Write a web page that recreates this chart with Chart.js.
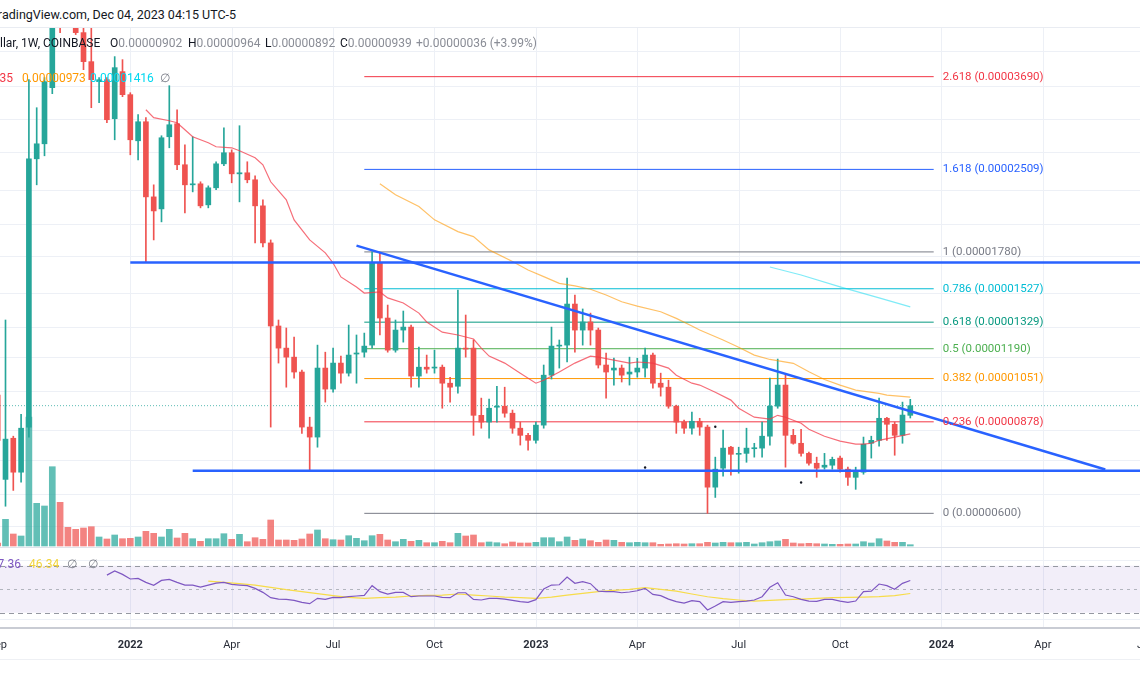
<!DOCTYPE html>
<html>
<head>
<meta charset="utf-8">
<script src="https://cdn.jsdelivr.net/npm/chart.js@4.4.1/dist/chart.umd.min.js"></script>
<style>
  html, body { margin: 0; padding: 0; background: #fff; }
  body { width: 1140px; height: 694px; position: relative; overflow: hidden; font-family: Roboto, "Open Sans", sans-serif; color: #131722; }
  #wrap { position: absolute; left: 0; top: 28px; width: 1140px; height: 637px; }
  .txt { position: absolute; white-space: nowrap; line-height: 16px; font-size: 12px; }
  .cut { position: absolute; right: 100%; top: 0; }
  .ra { transform: translateX(-100%); }
  .rule { position: absolute; left: 0; width: 1140px; }
  .gray { color: #8a8d96; }
</style>
</head>
<body>
<div id="wrap"><canvas id="chart" width="1140" height="637"></canvas></div>
<div class="rule" style="top:27px;height:1px;background:#e9ecf2"></div>
<div class="rule" style="top:547px;height:1px;background:#e0e3eb"></div>
<div class="rule" style="top:627px;height:2px;background:#c9ccd4"></div>
<div class="rule" style="top:659px;height:1px;background:#eef0f4"></div>
<div class="txt" style="left:2px;top:7px;font-size:12.5px"><span class="cut">Tr</span>adingView.com, Dec 04, 2023 04:15 UTC-5</div>
<div id="labels"></div>
<script>
// SHIB/USD weekly, Coinbase. Prices are in units of 0.00000001 USD.
const UNIT = 1e-8;
const firstWeek = -1;   // first bar sits just off the left edge

const openP = [
  981, 691, 820, 712, 859, 2622, 2791, 3525, 5528, 4777,
  4679, 4432, 3928, 3614, 3644, 3098, 3768, 3424, 2826, 3059,
  2238, 2129, 2874, 3034, 2558, 2353, 2363, 2165, 2324, 2568,
  2689, 2463, 2474, 2403, 2156, 1848, 1308, 1193, 1149, 1080,
  859, 824, 1098, 1006, 1121, 1075, 1164, 1173, 1208, 1700,
  1352, 1183, 1286, 1302, 1062, 1102, 1098, 1102, 1031, 1018,
  1193, 1193, 902, 877, 933, 937, 910, 855, 830, 813,
  866, 1066, 1203, 1208, 1433, 1286, 1330, 1286, 1112, 1089,
  1098, 1071, 1080, 1098, 1159, 1031, 1014, 937, 877, 855,
  880, 859, 669, 724, 790, 767, 770, 785, 787, 827,
  937, 1023, 830, 803, 770, 739, 727, 733, 755, 721,
  697, 712, 803, 813, 891, 869, 830, 902
];
const highP = [
  1023, 1341, 827, 906, 3644, 3243, 3675, 8856, 6532, 5303,
  4878, 4679, 4679, 3675, 3675, 4011, 3961, 3452, 3150, 3111,
  2353, 2886, 3554, 3216, 2780, 2874, 2383, 2343, 2590, 2984,
  2722, 3009, 2590, 2443, 2211, 1871, 1341, 1297, 1249, 1089,
  895, 1208, 1173, 1193, 1154, 1313, 1260, 1270, 1780, 1773,
  1427, 1341, 1392, 1313, 1198, 1159, 1183, 1112, 1057, 1519,
  1369, 1234, 969, 965, 1018, 1014, 922, 877, 837, 877,
  1112, 1302, 1234, 1597, 1488, 1404, 1380, 1297, 1169, 1144,
  1112, 1149, 1144, 1193, 1169, 1075, 1044, 941, 884, 914,
  891, 866, 758, 848, 793, 790, 855, 803, 877, 1053,
  1140, 1066, 851, 851, 774, 758, 770, 758, 761, 727,
  727, 824, 827, 969, 895, 877, 953, 964
];
const lowP = [
  787, 618, 660, 683, 824, 2353, 2655, 3438, 4432, 4582,
  4396, 3799, 3243, 3311, 3047, 2838, 3395, 2666, 2611, 1707,
  1871, 2017, 2745, 2505, 2094, 2285, 2138, 2138, 2305, 2547,
  2373, 2192, 2373, 1848, 1817, 859, 1121, 1014, 1053, 837,
  718, 790, 953, 993, 1031, 1062, 1031, 1149, 1193, 1260,
  1173, 1173, 1223, 1014, 1014, 1075, 1075, 929, 953, 989,
  1149, 830, 855, 820, 877, 895, 837, 797, 780, 803,
  855, 1049, 1098, 1126, 1173, 1208, 1208, 1098, 969, 1023,
  1036, 1023, 1057, 1057, 1010, 977, 929, 837, 837, 834,
  830, 600, 641, 700, 703, 709, 742, 758, 758, 797,
  929, 727, 800, 761, 733, 697, 721, 721, 712, 674,
  663, 706, 755, 793, 813, 764, 803, 892
];
const closeP = [
  813, 817, 712, 855, 2622, 2791, 3614, 5528, 4777, 4679,
  4432, 3928, 3644, 3644, 3085, 3831, 3424, 2838, 3059, 2238,
  2111, 2862, 3021, 2558, 2353, 2363, 2156, 2324, 2568, 2689,
  2463, 2474, 2403, 2156, 1848, 1308, 1193, 1149, 1080, 859,
  824, 1098, 1006, 1121, 1075, 1159, 1169, 1203, 1700, 1352,
  1183, 1286, 1302, 1062, 1102, 1093, 1102, 1031, 1014, 1193,
  1188, 902, 877, 929, 937, 910, 855, 830, 813, 866,
  1066, 1203, 1208, 1433, 1286, 1330, 1286, 1112, 1080, 1098,
  1066, 1080, 1098, 1159, 1031, 1014, 937, 877, 855, 880,
  859, 669, 721, 787, 767, 770, 787, 787, 827, 937,
  1023, 830, 803, 770, 739, 724, 733, 751, 721, 697,
  712, 800, 813, 891, 869, 830, 903, 939
];
// weekly volume, relative units
const volume = [
  30, 267, 120, 100, 1290, 427, 400, 793, 437, 187,
  167, 180, 193, 90, 70, 110, 73, 77, 90, 147,
  127, 90, 167, 80, 127, 73, 47, 73, 73, 123,
  67, 117, 43, 83, 67, 260, 60, 60, 57, 70,
  120, 160, 73, 63, 60, 103, 77, 53, 103, 117,
  60, 43, 67, 47, 57, 33, 33, 47, 33, 127,
  100, 110, 33, 40, 33, 23, 40, 30, 30, 37,
  83, 83, 43, 90, 57, 70, 53, 37, 60, 57,
  37, 33, 37, 33, 33, 17, 20, 23, 20, 23,
  23, 37, 30, 37, 33, 33, 37, 20, 33, 43,
  50, 67, 30, 23, 27, 23, 20, 17, 17, 20,
  20, 43, 30, 73, 50, 37, 37, 13
];

// moving averages (bar index, price)
const maFastIdx = [18,19,21,22,23,24,26,27,29,30,32,33,34,36,37,39,41,42,43,45,46,48,49,51,53,54,56,58,60,61,62,64,66,68,69,71,73,75,76,78,80,81,83,85,86,88,89,91,93,94,96,98,99,100,102,103,105,107,109,110,111,112,114,116];
const maFastVal = [3216,3111,3072,3047,2959,2874,2803,2757,2745,2711,2633,2558,2383,2211,2034,1871,1773,1700,1604,1538,1500,1507,1470,1439,1380,1330,1275,1260,1239,1193,1154,1121,1075,1031,1044,1080,1121,1154,1149,1135,1121,1126,1121,1098,1066,1031,1023,993,961,929,895,888,902,895,873,851,827,810,800,800,803,813,824,835];
const maMidIdx = [48,50,53,55,58,60,62,65,67,69,71,73,75,77,79,81,84,86,88,89,92,94,96,98,101,103,105,107,109,112,113,116];
const maMidVal = [2363,2257,2150,2034,1937,1897,1795,1710,1651,1606,1562,1545,1524,1488,1447,1421,1388,1350,1308,1286,1234,1197,1159,1138,1120,1081,1047,1023,1002,988,981,973];
const maSlowIdx = [98,102,107,112,116];
const maSlowVal = [1672,1617,1539,1470,1416];

// RSI(14) from bar 13 on, and its moving average
const rsiStart = 13;
const rsiVal = [
  62.0, 65.5, 62.6, 58.7, 59.2, 55.8, 53.3, 57.5, 58.4, 55.8,
  53.5, 53.5, 51.8, 53.5, 55.2, 55.8, 54.1, 53.5, 53.0, 50.7,
  47.3, 42.8, 41.6, 41.3, 40.5, 38.8, 37.7, 42.2, 41.3, 43.0,
  42.8, 43.6, 44.2, 44.8, 53.0, 47.9, 45.9, 47.3, 47.3, 43.6,
  44.2, 44.2, 44.2, 43.0, 42.8, 47.0, 47.0, 41.3, 40.8, 42.2,
  42.2, 41.6, 40.5, 39.4, 38.8, 41.1, 50.1, 53.5, 53.8, 60.4,
  55.0, 56.4, 54.7, 48.4, 47.9, 47.9, 47.0, 47.6, 48.7, 50.7,
  45.6, 44.5, 41.6, 39.4, 38.2, 40.2, 39.4, 32.3, 35.7, 39.4,
  38.8, 39.4, 39.9, 40.8, 43.6, 51.6, 55.5, 45.0, 43.6, 41.3,
  39.9, 39.6, 41.3, 41.3, 39.9, 38.8, 39.9, 47.9, 48.4, 54.4,
  53.0, 49.9, 55.0, 57.36
];
const rsiMaIdx = [26,28,30,32,34,36,38,40,42,44,46,48,50,52,54,56,58,60,62,64,66,68,70,72,74,76,78,80,82,84,86,88,90,92,94,96,98,100,102,104,106,108,110,112,114,116];
const rsiMaVal = [56.9,55.8,54.7,53.5,51.6,49.6,47.9,46.2,44.5,43.0,42.2,42.8,43.3,44.2,44.8,45.0,45.9,45.0,44.2,43.3,42.8,42.2,43.3,45.0,46.5,47.9,49.0,49.9,51.3,49.9,48.4,45.9,43.6,41.9,40.8,39.9,40.5,41.1,41.6,42.2,42.8,43.0,43.3,43.6,44.5,46.34];
const rsiBand = [30, 50, 70];
const rsiGrid = [25, 75];

// Fibonacci retracement
const fibRatio = [0, 0.236, 0.382, 0.5, 0.618, 0.786, 1, 1.618, 2.618];
const fibPrice = [600, 878, 1051, 1190, 1329, 1527, 1780, 2509, 3690];
const fibColor = ['#787b86', '#f23645', '#ff9800', '#4caf50', '#089981', '#00bcd4', '#787b86', '#2962ff', '#f23645'];
const fibFrom = 46, fibTo = 119;

// hand-drawn trend lines (bar index, price)
const resistIdx = [16, 150], resistVal = [1704, 1704];
const supportIdx = [24, 150], supportVal = [716, 716];
const fallIdx = [45, 141], fallVal = [1827, 720];
const dotIdx = [82, 91, 102], dotVal = [726, 860, 682];

// time axis: first weekly bar of each labelled month
const tickIdx = [-1, 16, 29, 42, 55, 68, 81, 94, 107, 120, 133, 146];
const tickLabels = ['Sep', '2022', 'Apr', 'Jul', 'Oct', '2023', 'Apr', 'Jul', 'Oct', '2024', 'Apr', 'Jul'];
const priceGrid = [4100, 3550, 3100, 2700, 2300, 2000, 1750, 1500, 1300, 1150, 1000, 850, 750, 650, 570];

// visible window
const viewMin = -0.705, viewMax = 145.45;
const priceMin = 372.4, priceMax = 4518;
const volMin = -820, volMax = 5180;
const rsiMin = 16.98, rsiMax = 527.6;

const up = '#26a69a', down = '#ef5350';
const xs = openP.map((_, j) => firstWeek + j);
const isUp = openP.map((o, j) => closeP[j] >= o);
const pts = (idx, vals) => idx.map((x, k) => ({ x, y: vals[k] }));

function lineSet(data, color, width, axis, order, extra) {
  return Object.assign({
    type: 'line', data, borderColor: color, borderWidth: width, yAxisID: axis,
    order, pointRadius: 0, pointHoverRadius: 0, tension: 0, fill: false
  }, extra || {});
}

const fibSets = fibPrice.map((p, k) =>
  lineSet([{ x: fibFrom, y: p }, { x: fibTo, y: p }], fibColor[k], 1, 'price', 9));

const decor = {
  id: 'decor',
  beforeDatasetsDraw(chart) {
    const { ctx, chartArea: a, scales } = chart;
    const x = scales.x, p = scales.price, r = scales.rsi;
    ctx.save();
    ctx.lineWidth = 1;
    ctx.strokeStyle = '#edf0f6';
    ctx.beginPath();
    tickIdx.forEach(v => {
      const px = Math.round(x.getPixelForValue(v)) + 0.5;
      ctx.moveTo(px, a.top); ctx.lineTo(px, a.bottom);
    });
    priceGrid.forEach(v => {
      const py = Math.round(p.getPixelForValue(v)) + 0.5;
      ctx.moveTo(a.left, py); ctx.lineTo(a.right, py);
    });
    rsiGrid.forEach(v => {
      const py = Math.round(r.getPixelForValue(v)) + 0.5;
      ctx.moveTo(a.left, py); ctx.lineTo(a.right, py);
    });
    ctx.stroke();
    const y70 = r.getPixelForValue(rsiBand[2]), y30 = r.getPixelForValue(rsiBand[0]);
    ctx.fillStyle = 'rgba(126,87,194,0.1)';
    ctx.fillRect(a.left, y70, a.width, y30 - y70);
    ctx.strokeStyle = '#9598a1';
    ctx.setLineDash([5, 4]);
    ctx.beginPath();
    [rsiBand[0], rsiBand[2]].forEach(v => {
      const py = Math.round(r.getPixelForValue(v)) + 0.5;
      ctx.moveTo(a.left, py); ctx.lineTo(a.right, py);
    });
    ctx.stroke();
    ctx.strokeStyle = '#b2b5be';
    ctx.setLineDash([3, 4]);
    ctx.beginPath();
    const ym = Math.round(r.getPixelForValue(rsiBand[1])) + 0.5;
    ctx.moveTo(a.left, ym); ctx.lineTo(a.right, ym);
    ctx.stroke();
    ctx.restore();
  },
  afterDatasetsDraw(chart) {
    const { ctx, chartArea: a, scales } = chart;
    const x = scales.x, p = scales.price;
    ctx.save();
    ctx.textBaseline = 'middle';
    ctx.textAlign = 'left';
    ctx.font = '11.5px Roboto, sans-serif';
    const lx = x.getPixelForValue(fibTo) + 9;
    fibPrice.forEach((v, k) => {
      ctx.fillStyle = fibColor[k];
      ctx.fillText(fibRatio[k] + ' (' + (v * UNIT).toFixed(8) + ')', lx, p.getPixelForValue(v));
    });
    ctx.textAlign = 'center';
    ctx.fillStyle = '#2a2e39';
    tickIdx.forEach((v, k) => {
      const isYear = /^\d{4}$/.test(tickLabels[k]);
      ctx.font = (isYear ? 'bold ' : '') + '11px Roboto, sans-serif';
      ctx.fillText(tickLabels[k], x.getPixelForValue(v), a.bottom + 17);
    });
    ctx.restore();
  }
};

new Chart(document.getElementById('chart'), {
  type: 'bar',
  data: {
    datasets: [
      {
        label: 'Volume', yAxisID: 'vol', order: 10,
        data: xs.map((x, j) => ({ x, y: volume[j] })),
        backgroundColor: isUp.map(u => u ? 'rgba(38,166,154,0.72)' : 'rgba(239,83,80,0.72)'),
        grouped: false, categoryPercentage: 1, barPercentage: 1, maxBarThickness: 6
      },
      ...fibSets,
      lineSet([{ x: viewMin, y: closeP[closeP.length - 1] }, { x: viewMax, y: closeP[closeP.length - 1] }],
        'rgba(38,166,154,0.75)', 1, 'price', 8, { borderDash: [1, 2] }),
      {
        label: 'Wick', yAxisID: 'price', order: 7,
        data: xs.map((x, j) => ({ x, y: [lowP[j], highP[j]] })),
        backgroundColor: isUp.map(u => u ? up : down),
        grouped: false, categoryPercentage: 1, barPercentage: 1, maxBarThickness: 1
      },
      {
        label: 'Body', yAxisID: 'price', order: 6,
        data: xs.map((x, j) => ({ x, y: [openP[j], closeP[j]] })),
        backgroundColor: isUp.map(u => u ? up : down),
        grouped: false, categoryPercentage: 1, barPercentage: 1, maxBarThickness: 5, minBarLength: 1
      },
      lineSet(pts(maFastIdx, maFastVal), 'rgba(242,54,69,0.72)', 1.2, 'price', 5),
      lineSet(pts(maMidIdx, maMidVal), 'rgba(255,152,0,0.6)', 1.2, 'price', 5),
      lineSet(pts(maSlowIdx, maSlowVal), 'rgba(0,216,240,0.5)', 1.2, 'price', 5),
      lineSet(pts(resistIdx, resistVal), '#2962ff', 2.5, 'price', 4),
      lineSet(pts(supportIdx, supportVal), '#2962ff', 2.5, 'price', 4),
      lineSet(pts(fallIdx, fallVal), '#2962ff', 2.5, 'price', 4),
      lineSet(pts(dotIdx, dotVal), '#131722', 0, 'price', 3,
        { showLine: false, pointRadius: 1.2, pointBackgroundColor: '#131722', pointBorderWidth: 0 }),
      lineSet(pts(rsiMaIdx, rsiMaVal), '#f7dc4a', 1.2, 'rsi', 2),
      lineSet(rsiVal.map((v, k) => ({ x: rsiStart + k, y: v })), '#7e57c2', 1.2, 'rsi', 1)
    ]
  },
  options: {
    responsive: false,
    animation: false,
    devicePixelRatio: 1,
    events: [],
    layout: { autoPadding: false, padding: { left: 0, right: 0, top: 0, bottom: 37 } },
    plugins: { legend: { display: false }, tooltip: { enabled: false } },
    scales: {
      x: { type: 'linear', min: viewMin, max: viewMax, offset: false, display: false,
           ticks: { includeBounds: false, stepSize: 10 } },
      price: { type: 'logarithmic', axis: 'y', min: priceMin, max: priceMax, display: false },
      vol: { type: 'linear', axis: 'y', min: volMin, max: volMax, display: false },
      rsi: { type: 'linear', axis: 'y', min: rsiMin, max: rsiMax, display: false }
    }
  },
  plugins: [decor]
});

// ===== legends over the panes =====
const fmt = v => (v * UNIT).toFixed(8);
const last = openP.length - 1;
const chg = closeP[last] - closeP[last - 1];
const pct = (chg / closeP[last - 1] * 100).toFixed(2);
const sign = chg >= 0 ? '+' : '-';
const lastOf = a => a[a.length - 1];

const labelHtml = [
  `<div class="txt" style="left:0;top:35px"><span class="cut">Shiba Inu / U.S. Do</span>llar, 1W, COINBASE</div>`,
  `<div class="txt" style="left:110px;top:35px">O<span class="gray">${fmt(openP[last])}</span></div>`,
  `<div class="txt" style="left:188px;top:35px">H<span class="gray">${fmt(highP[last])}</span></div>`,
  `<div class="txt" style="left:265px;top:35px">L<span class="gray">${fmt(lowP[last])}</span></div>`,
  `<div class="txt" style="left:340px;top:35px">C<span class="gray">${fmt(closeP[last])}</span></div>`,
  `<div class="txt gray" style="left:416px;top:35px">${sign}${fmt(Math.abs(chg))} (${sign}${Math.abs(pct)}%)</div>`,
  `<div class="txt ra" style="left:13px;top:70px;color:#f23645">${fmt(lastOf(maFastVal))}</div>`,
  `<div class="txt" style="left:22px;top:70px;color:#ff9800">${fmt(lastOf(maMidVal))}</div>`,
  `<div class="txt" style="left:90px;top:70px;color:#00d8f0">${fmt(lastOf(maSlowVal))}</div>`,
  `<div class="txt" style="left:160px;top:70px;color:#787b86">\u2205</div>`,
  `<div class="txt ra" style="left:21px;top:556px;color:#7e57c2">${lastOf(rsiVal).toFixed(2)}</div>`,
  `<div class="txt" style="left:29px;top:556px;color:#f2d43c">${lastOf(rsiMaVal).toFixed(2)}</div>`,
  `<div class="txt" style="left:67px;top:556px;color:#787b86">\u2205</div>`,
  `<div class="txt" style="left:88px;top:556px;color:#787b86">\u2205</div>`
];
document.getElementById('labels').innerHTML = labelHtml.join('');
</script>
</body>
</html>
